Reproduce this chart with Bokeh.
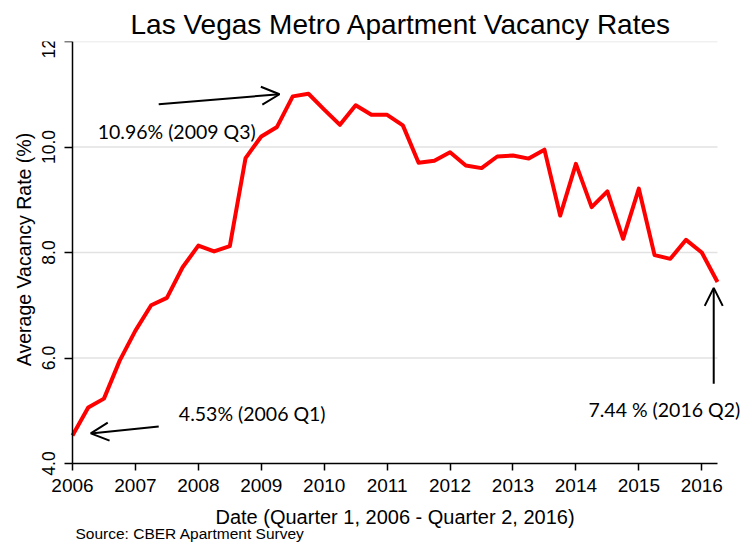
import math
from bokeh.plotting import figure
from bokeh.models import (Range1d, FixedTicker, CustomJSTickFormatter, Label,
                          Arrow, OpenHead)
from bokeh.embed import file_html
from bokeh.resources import INLINE

# ---- data -------------------------------------------------------------
quarters = [
    "2006 Q1", "2006 Q2", "2006 Q3", "2006 Q4",
    "2007 Q1", "2007 Q2", "2007 Q3", "2007 Q4",
    "2008 Q1", "2008 Q2", "2008 Q3", "2008 Q4",
    "2009 Q1", "2009 Q2", "2009 Q3", "2009 Q4",
    "2010 Q1", "2010 Q2", "2010 Q3", "2010 Q4",
    "2011 Q1", "2011 Q2", "2011 Q3", "2011 Q4",
    "2012 Q1", "2012 Q2", "2012 Q3", "2012 Q4",
    "2013 Q1", "2013 Q2", "2013 Q3", "2013 Q4",
    "2014 Q1", "2014 Q2", "2014 Q3", "2014 Q4",
    "2015 Q1", "2015 Q2", "2015 Q3", "2015 Q4",
    "2016 Q1", "2016 Q2",
]
vacancy = [
    4.53, 5.06, 5.23, 5.95,
    6.52, 7.00, 7.14, 7.72,
    8.13, 8.02, 8.12, 9.79,
    10.20, 10.38, 10.96, 11.01,
    10.71, 10.42, 10.79, 10.61,
    10.61, 10.41, 9.70, 9.74,
    9.90, 9.65, 9.60, 9.82,
    9.84, 9.78, 9.95, 8.70,
    9.68, 8.86, 9.16, 8.26,
    9.21, 7.95, 7.88, 8.24,
    8.00, 7.44,
]
year_ticks = [2006, 2007, 2008, 2009, 2010, 2011, 2012, 2013, 2014, 2015, 2016]
rate_ticks = [4, 6, 8, 10, 12]
rate_tick_labels = ["4.0", "6.0", "8.0", "10.0", "12.0"]

title_text = "Las Vegas Metro Apartment Vacancy Rates"
x_label = "Date (Quarter 1, 2006 - Quarter 2, 2016)"
y_label = "Average Vacancy Rate (%)"
source_text = "Source: CBER Apartment Survey"
note_peak = "10.96% (2009 Q3)"
note_start = "4.53% (2006 Q1)"
note_end = "7.44 % (2016 Q2)"

# quarter label -> decimal year
xs = [int(q[:4]) + (int(q[-1]) - 1) / 4 for q in quarters]
x_first, x_last = xs[0], xs[-1]
y_low, y_high = rate_ticks[0], rate_ticks[-1]

# ---- geometry (pixels) ------------------------------------------------
W, H = 755, 542
TOP = 41                     # title band above the frame
AX_LEFT = 72                 # where the y axis sits
PXY = 645 / (x_last - x_first)          # px per year
PXV = 422 / (y_high - y_low)            # px per vacancy point
AX_BOTTOM_GAP = (H - TOP) - 422         # room under the x axis

x_min = x_first - AX_LEFT / PXY
x_max = x_min + W / PXY
y_min = y_low - AX_BOTTOM_GAP / PXV

p = figure(frame_width=W, frame_height=H - TOP, output_backend="svg",
           toolbar_location=None,
           x_range=Range1d(x_min, x_max), y_range=Range1d(y_min, y_high),
           min_border_left=0, min_border_right=0, min_border_top=TOP,
           min_border_bottom=0)
p.outline_line_color = None
p.background_fill_color = "white"

ARIAL = "Liberation Sans"

p.title.text = title_text
p.title.text_font = ARIAL
p.title.text_font_size = "28px"
p.title.text_font_style = "normal"
p.title.align = "left"
p.title.offset = 130
p.title.standoff = 4
p.title.text_color = "black"

p.xaxis.fixed_location = y_low
p.xaxis.bounds = (x_first, x_last)
p.xaxis.ticker = FixedTicker(ticks=year_ticks)
p.xaxis.minor_tick_line_color = None
p.xaxis.major_tick_out = 7
p.xaxis.major_tick_in = 0
p.xaxis.major_label_text_font = ARIAL
p.xaxis.major_label_text_font_size = "19px"
p.xaxis.major_label_text_color = "black"
p.xaxis.major_label_standoff = 8
p.xaxis.axis_line_color = "black"
p.xaxis.axis_line_width = 1.5
p.xaxis.major_tick_line_width = 1.5

p.yaxis.fixed_location = x_first
p.yaxis.bounds = (y_low, y_high)
p.yaxis.ticker = FixedTicker(ticks=rate_ticks)
p.yaxis.formatter = CustomJSTickFormatter(code="return ''")
p.yaxis.minor_tick_line_color = None
p.yaxis.major_tick_out = 8
p.yaxis.major_tick_in = 0
p.yaxis.axis_line_color = "black"
p.yaxis.axis_line_width = 1.5
p.yaxis.major_tick_line_width = 1.5

p.xgrid.grid_line_color = None
p.ygrid.grid_line_color = None

# horizontal grid lines spanning the data period only
grid_levels = rate_ticks[1:]
p.segment(x0=[x_first] * len(grid_levels), x1=[x_last] * len(grid_levels),
          y0=grid_levels, y1=grid_levels, line_color="#e2e2e2", line_width=1.5)

p.line(xs, vacancy, line_color="#ff0000", line_width=4, line_join="round")

# ---- axis texts -------------------------------------------------------
def px_x(px):   # page pixel -> data x
    return x_min + px / PXY

def px_y(py):   # page pixel (from top of figure) -> data y
    return y_high - (py - TOP) / PXV

# rotated y tick labels, centred 24 px left of the axis
label_x = x_first - 24 / PXY
for tick, txt in zip(rate_ticks, rate_tick_labels):
    p.add_layout(Label(x=label_x, y=tick, text=txt, angle=math.pi / 2,
                       text_font=ARIAL, text_font_size="17.5px",
                       text_align="center", text_baseline="middle",
                       text_color="black"))

p.add_layout(Label(x=(x_first + x_last) / 2, y=px_y(516.5), text=x_label,
                   text_font=ARIAL, text_font_size="20px", text_align="center",
                   text_baseline="middle", text_color="black"))
p.add_layout(Label(x=px_x(23.5), y=px_y(249), text=y_label,
                   angle=math.pi / 2, text_font=ARIAL, text_font_size="19.5px",
                   text_align="center", text_baseline="middle",
                   text_color="black"))
p.add_layout(Label(x=px_x(75), y=px_y(533), text=source_text, text_font=ARIAL,
                   text_font_size="15.5px", text_align="left",
                   text_baseline="middle", text_color="black"))

# ---- annotations ------------------------------------------------------
NOTE_FONT = "Lato"
NOTE_SIZE = "19.5px"

def arrow(x0, y0, x1, y1):
    p.add_layout(Arrow(end=OpenHead(size=18, line_width=2, line_color="black"),
                       x_start=x0, y_start=y0, x_end=x1, y_end=y1,
                       line_width=2, line_color="black"))

arrow(2007.37, 10.81, 2009.29, 11.0)
arrow(2007.37, 4.70, 2006.29, 4.57)
arrow(2016.19, 5.51, 2016.19, 7.33)

p.add_layout(Label(x=2006.40, y=10.29, text=note_peak, text_font=NOTE_FONT,
                   text_font_size=NOTE_SIZE, text_baseline="middle",
                   text_align="left", text_color="black"))
p.add_layout(Label(x=2007.69, y=4.94, text=note_start, text_font=NOTE_FONT,
                   text_font_size=NOTE_SIZE, text_baseline="middle",
                   text_align="left", text_color="black"))
p.add_layout(Label(x=2016.61, y=5.03, text=note_end, text_font=NOTE_FONT,
                   text_font_size=NOTE_SIZE, text_baseline="middle",
                   text_align="right", text_color="black"))

open("out.html", "w").write(file_html(p, INLINE))
